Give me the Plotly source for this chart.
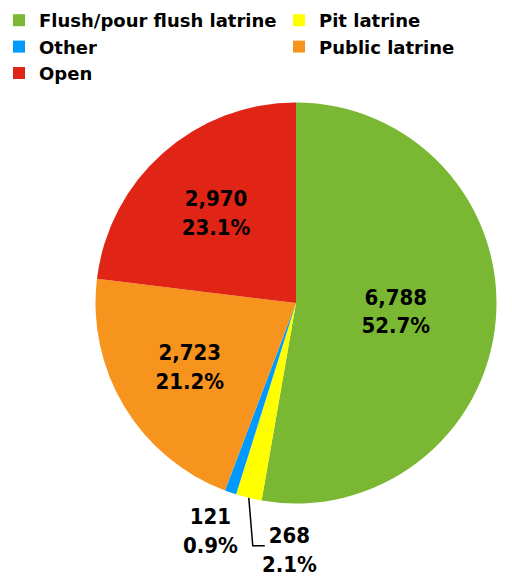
import numpy as np
import plotly.graph_objects as go

categories = ["Flush/pour flush latrine", "Pit latrine", "Other", "Public latrine", "Open"]
values = [6788, 268, 121, 2723, 2970]
colors = ["#7AB833", "#FFFF00", "#0099FF", "#F7941E", "#E02516"]
positions = ["inside", "none", "none", "inside", "inside"]
legend_left = ["Flush/pour flush latrine", "Other", "Open"]
legend_right = ["Pit latrine", "Public latrine"]

PIE_FONT = "DejaVu Sans Condensed, Liberation Sans Narrow, Arial, sans-serif"
LEG_FONT = "DejaVu Sans, Arial, sans-serif"

W, H = 504, 569          # page body has an 8px margin
cx, cy, r = 288.0, 295.0, 200.5

def px(x):
    return x / W

def py(y):
    return 1 - y / H

fig = go.Figure(go.Pie(
    labels=categories,
    values=values,
    marker=dict(colors=colors, line=dict(width=0)),
    sort=False,
    direction="clockwise",
    rotation=0,
    texttemplate="%{value:,}<br>%{percent:.1%}",
    textposition=positions,
    insidetextorientation="horizontal",
    textfont=dict(family=PIE_FONT, size=22, color="black", weight="bold"),
    domain=dict(x=[px(cx - r), px(cx + r)], y=[py(cy + r), py(cy - r)]),
    showlegend=False,
))

# legend entries (two columns)
for name in categories:
    col = colors[categories.index(name)]
    fig.add_trace(go.Scatter(
        x=[None], y=[None], mode="markers", name=name,
        marker=dict(symbol="square", size=12, color=col),
        legend="legend" if name in legend_left else "legend2",
        showlegend=True,
    ))

# outside labels for the thin slices
vals = np.array(values, dtype=float)
cum = np.cumsum(vals) - vals / 2
label_font = dict(family=PIE_FONT, size=22, color="black", weight="bold")
for name, (dx, dy, leader) in {"Pit latrine": (41, 52, True), "Other": (-20, 38, False)}.items():
    idx = categories.index(name)
    theta = np.deg2rad(360 * cum[idx] / vals.sum())
    ex, ey = cx + r * np.sin(theta), cy - r * np.cos(theta)
    pct = values[idx] / vals.sum() * 100
    if leader:
        fig.add_shape(
            type="path", xref="paper", yref="paper",
            path=f"M {px(ex)} {py(ey)} L {px(ex + 4)} {py(ey + 48)} L {px(ex + 16)} {py(ey + 48)}",
            line=dict(color="black", width=1.5),
        )
    fig.add_annotation(
        x=px(ex + dx), y=py(ey + dy), xref="paper", yref="paper",
        text=f"{values[idx]:,}<br>{pct:.1f}%", showarrow=False,
        xanchor="center", yanchor="middle", align="center",
        font=label_font,
    )

leg_common = dict(
    orientation="v", yanchor="top", xanchor="left",
    bgcolor="rgba(0,0,0,0)", itemwidth=30,
    font=dict(family=LEG_FONT, size=18, color="black", weight="bold"),
)
fig.update_layout(
    width=W, height=H,
    margin=dict(l=0, r=0, t=0, b=0, autoexpand=False),
    paper_bgcolor="white", plot_bgcolor="white",
    xaxis=dict(visible=False), yaxis=dict(visible=False),
    uniformtext=dict(minsize=22, mode="show"),
    legend=dict(x=px(-9), y=py(-6), **leg_common),
    legend2=dict(x=px(271), y=py(-6), **leg_common),
)

fig.write_html("out.html")
